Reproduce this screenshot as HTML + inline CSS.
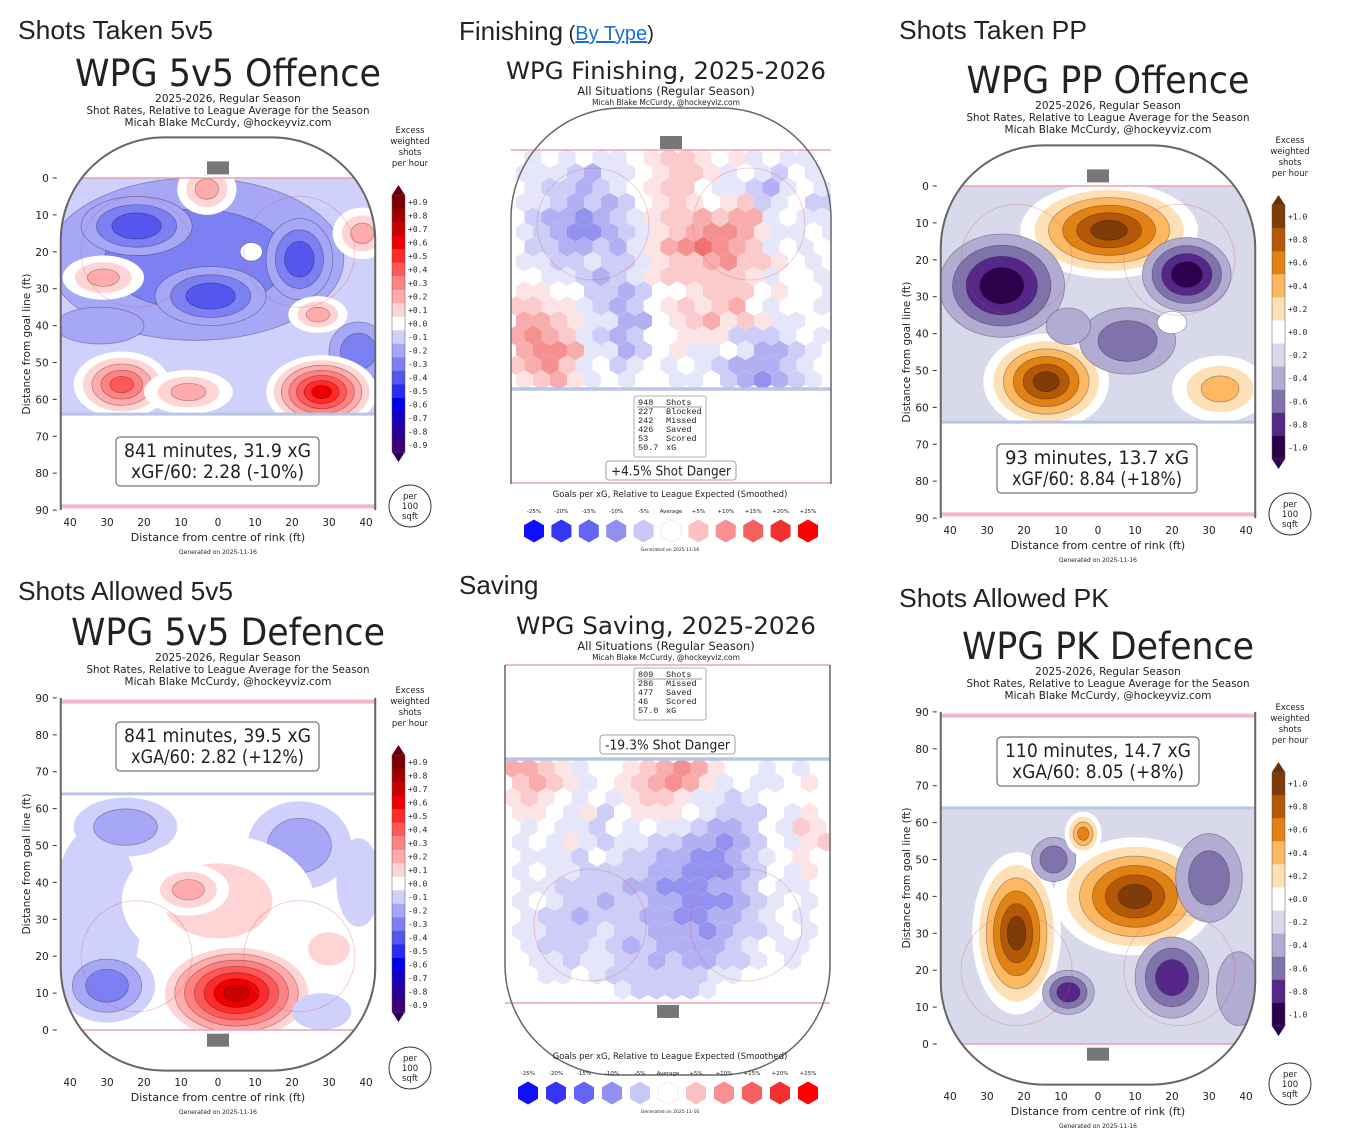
<!DOCTYPE html>
<html><head><meta charset="utf-8"><title>WPG shot charts</title>
<style>html,body{margin:0;padding:0;background:#fff;}svg{display:block;font-family:"DejaVu Sans","Liberation Sans",sans-serif;}</style>
</head><body>
<svg id="root" width="1356" height="1146" viewBox="0 0 1356 1146" xmlns="http://www.w3.org/2000/svg">
<defs id="defs"></defs>
</svg>
<script>
// ---------- data ----------
const seisLabels = ['+0.9','+0.8','+0.7','+0.6','+0.5','+0.4','+0.3','+0.2','+0.1','+0.0','-0.1','-0.2','-0.3','-0.4','-0.5','-0.6','-0.7','-0.8','-0.9'];
const puorLabels = ['+1.0','+0.8','+0.6','+0.4','+0.2','+0.0','-0.2','-0.4','-0.6','-0.8','-1.0'];
const xTicks = [-40,-30,-20,-10,0,10,20,30,40];
const yTicks = [0,10,20,30,40,50,60,70,80,90];
// blobs: [x ft, distance ft, rx ft, ry ft, level]
const offence5v5Blobs = [[-6,22,40,22,-3],[-32,40,12,5,-2],[-22,13,15,8,-4],[-2,32,15,8,-4],[22,22,9,11,-4],[38,47,8,8,-3],[9,20,3,2.5,0],[-3,3,8,7,2],[-31,27,11,6,2],[39,15,8,7,2],[27,37,8,5,2],[-26,56,13,9,4],[-8,58,12,6,2],[28,58,15,10,6]];
const defence5v5Blobs = [[-33,30,12,25,-1],[-25,55,14,8,-2],[22,50,14,12,-2],[38,40,6,12,-1],[-30,12,13,10,-3],[0,35,26,18,1],[-8,38,11,7,2],[5,10,22,14,7],[30,22,10,8,1],[28,5,8,5,-1]];
const ppOffenceBlobs = [[3,12,24,13,5],[-26,27,17,14,-5],[24,24,12,10,-5],[-14,53,17,13,5],[33,55,13,9,2],[8,42,13,9,-3],[20,37,4,3,0],[-8,38,6,5,-2]];
const pkDefenceBlobs = [[10,40,22,16,5],[-22,30,12,22,5],[20,18,10,11,-4],[30,45,9,12,-3],[-12,50,6,6,-3],[-8,14,7,6,-4],[-4,57,5,6,3],[38,15,6,10,-2]];
// hex grids: A-E = -1..-5, 0 = average, 1-5 = +1..+5
const finishingHex = ["0A0A0AA0122101A0AA0","AAABCAA01221A0AB0A0","0ABBCBA01220AABCA0A","AABCBCB0121012BA0BB","0BCCDCBA1223233A0AA","ABCDDCBA1234431AA0A","0BBCCBCA1345432A0A0","AABBABBA122342210A0","00AABCBA1222221A00A","1100BBCB0012220100A","2211ABCB0121230A00A","3321AACC0123121AA00","3432ABCB00111BBBA0A","3443AACB01AA0ACCBA0","2342A0BA0A0ABCCCBA0","1231A0A00AA0BCDCBA0"];
const savingHex = ["3321A0012343100A0A0","2321A0123431A0AA010","1210A0A1221AABA0000","110A1B01110ABBB0A10","0A0AAB0A0AABCCB0A21","A0A1ABAABBCCDCB0A12","0AAAB0ABBCCDDCBA010","A0AABBBBCCDDDCB0A10","0AABBBBCCDDDCCB0AA0","A0ABBCBBCCDDDCBA0A0","0ABBCBBBCCDDCCBA0A0","AABBBABBCCCDCBBA0A0","0ABBBABCBCCCCBA0AA0","0AABAABBCBCCBBA0A00","00AA0ABBBBBBAA00000","000000ABBBBA0000000"];
const legendLabels = ['-25%','-20%','-15%','-10%','-5%','Average','+5%','+10%','+15%','+20%','+25%'];
const finishingStats = [['948','Shots'],['227','Blocked'],['242','Missed'],['426','Saved'],[' 53','Scored'],[' 50.7','xG']];
const savingStats = [['809','Shots'],['286','Missed'],['477','Saved'],[' 46','Scored'],[' 57.0','xG']];

// ---------- helpers ----------
const NS='http://www.w3.org/2000/svg';
const root=document.getElementById('root');
const defs=document.getElementById('defs');
function mk(tag,attrs,name,parent){
  const el=document.createElementNS(NS,tag);
  for(const k in attrs) el.setAttribute(k,attrs[k]);
  
  
  (parent||root).appendChild(el);
  return el;
}
function txt(x,y,s,size,name,o,parent){
  o=o||{};
  const a={x:x,y:y,'font-size':size,'text-anchor':o.anchor||'middle',fill:o.fill||'#222'};
  if(o.len){a.textLength=o.len;a.lengthAdjust='spacingAndGlyphs';}
  if(o.family)a['font-family']=o.family;
  if(o.rot)a.transform='rotate('+o.rot+' '+x+' '+y+')';
  const t=mk('text',a,name,parent);
  t.textContent=s;
  return t;
}
const seis={9:'#7a0000',8:'#a00000',7:'#c80000',6:'#ee0000',5:'#ff2a2a',4:'#ff5858',3:'#ff8282',2:'#ffabab',1:'#ffd4d4',0:'#ffffff',
 '-1':'#cfd0fb','-2':'#a6a8f7','-3':'#7c80f2','-4':'#5456ee','-5':'#2a2cf0','-6':'#0000e8','-7':'#1400c0','-8':'#2a0098','-9':'#3a0074'};
const puor={5:'#7f3b08',4:'#b35806',3:'#e08214',2:'#fdb863',1:'#fee0b6',0:'#ffffff','-1':'#d8daeb','-2':'#b2abd2','-3':'#8073ac','-4':'#542788','-5':'#2d004b'};
const hexPos={1:'#fde4e4',2:'#fbcaca',3:'#f8acac',4:'#f59090',5:'#f07272'};
const hexNeg={1:'#e6e6fb',2:'#cdcdf7',3:'#b0b0f3',4:'#9393ef',5:'#7474ea'};
function hexColor(ch){
  if(ch>='1'&&ch<='5')return hexPos[ch];
  if(ch>='A'&&ch<='E')return hexNeg[ch.charCodeAt(0)-64];
  return '#ffffff';
}
function hexPoints(cx,cy,w){
  const r=w/Math.sqrt(3);let p=[];
  for(let i=0;i<6;i++){const a=Math.PI/180*(60*i-90);p.push((cx+r*Math.cos(a)).toFixed(1)+','+(cy+r*Math.sin(a)).toFixed(1));}
  return p.join(' ');
}

// ---------- contour panels ----------
let clipId=0;
function contourPanel(P){
  const g=mk('g',{},P.name);
  const s=3.7;
  const X=ft=>P.cx+ft*s;
  const Y=ft=>P.gy+P.dir*ft*3.69;
  const L=X(-42.5),Rt=X(42.5),E=Y(-11),F=Y(90),R=103;
  let d;
  if(P.dir===1) d=`M${L},${F} V${E+R} A${R},${R} 0 0 1 ${L+R},${E} H${Rt-R} A${R},${R} 0 0 1 ${Rt},${E+R} V${F}`;
  else d=`M${L},${F} V${E-R} A${R},${R} 0 0 0 ${L+R},${E} H${Rt-R} A${R},${R} 0 0 0 ${Rt},${E-R} V${F}`;
  txt(P.hx,P.hy,P.header,26,'section-header',{anchor:'start',family:'"Liberation Sans",sans-serif',len:P.hlen},g);
  txt(P.tcx,P.ty,P.title,37,'chart-title',{len:P.tlen},g);
  txt(P.tcx,P.ty+16,'2025-2026, Regular Season',10.5,'subtitle-season',{},g);
  txt(P.tcx,P.ty+28,'Shot Rates, Relative to League Average for the Season',10.5,'subtitle-metric',{len:283},g);
  txt(P.tcx,P.ty+40,'Micah Blake McCurdy, @hockeyviz.com',10.5,'subtitle-author',{},g);
  const c1='c'+(clipId++),c2='c'+(clipId++);
  const cp1=mk('clipPath',{id:c1},'rink-clip',defs);
  mk('path',{d:d+' Z'},'rink-clip-shape',cp1);
  const cp2=mk('clipPath',{id:c2},'zone-clip',defs);
  const zy=Math.min(Y(0),Y(64));
  mk('rect',{x:L,y:zy,width:Rt-L,height:Math.abs(Y(64)-Y(0))},'zone-clip-rect',cp2);
  const outer=mk('g',{'clip-path':`url(#${c1})`},'rink-area',g);
  const zone=mk('g',{'clip-path':`url(#${c2})`},'contour-zone',outer);
  const pal=P.pal;
  mk('rect',{x:L,y:zy,width:Rt-L,height:Math.abs(Y(64)-Y(0)),fill:pal[P.base]},'contour-base',zone);
  P.blobs.forEach(b=>{
    const n=Math.abs(b[4]),sg=Math.sign(b[4]);
    if(n===0){
      mk('ellipse',{cx:X(b[0]),cy:Y(b[1]),rx:b[2]*s,ry:b[3]*3.69,fill:'#fff',stroke:'rgba(0,0,0,0.35)','stroke-width':0.7},'contour-level',zone);
      return;
    }
    const start=sg>0?0:(P.base<0?2:1);
    const steps=n-start+1;
    for(let i=start;i<=n;i++){
      const fac=1-(i-start)/(steps+ (sg>0?0.3:0.6));
      mk('ellipse',{cx:X(b[0]),cy:Y(b[1]),rx:(b[2]*s*fac).toFixed(1),ry:(b[3]*3.69*fac).toFixed(1),fill:pal[sg*i],stroke:i>=2?'rgba(0,0,0,0.35)':'none','stroke-width':0.7},'contour-level',zone);
    }
  });
  [-22,22].forEach(fx=>mk('circle',{cx:X(fx),cy:Y(20),r:15*s,fill:'none',stroke:'rgba(220,80,100,0.35)','stroke-width':0.8},'faceoff-circle',outer));
  mk('line',{x1:L,x2:Rt,y1:Y(0),y2:Y(0),stroke:'#e8a0b0','stroke-width':1.5},'goal-line',outer);
  mk('line',{x1:L,x2:Rt,y1:Y(64),y2:Y(64),stroke:'#b8c6e4','stroke-width':3},'blue-line',outer);
  mk('line',{x1:L,x2:Rt,y1:Y(89),y2:Y(89),stroke:'#f2b8c4','stroke-width':4},'centre-red-line',outer);
  mk('rect',{x:P.cx-11,y:Math.min(Y(-4.5),Y(-1)),width:22,height:13,fill:'#777'},'goal-net',g);
  mk('path',{d:d,fill:'none',stroke:'#666','stroke-width':2},'rink-boards',g);
  yTicks.forEach(t=>{
    txt(L-12,Y(t)+4,String(t),10.5,'y-tick-label',{anchor:'end'},g);
    mk('line',{x1:L-8,x2:L-4,y1:Y(t),y2:Y(t),stroke:'#333','stroke-width':1},'y-tick',g);
  });
  xTicks.forEach(t=>txt(X(t),P.xty,String(Math.abs(t)),10.5,'x-tick-label',{},g));
  txt(P.cx,P.xty+15,'Distance from centre of rink (ft)',11,'x-axis-title',{},g);
  txt(P.cx,P.xty+28,'Generated on 2025-11-16',6,'generated-note',{},g);
  const ymid=(Y(0)+Y(90))/2;
  txt(P.cx-188,ymid,'Distance from goal line (ft)',10.5,'y-axis-title',{rot:-90},g);
  mk('rect',{x:P.bx,y:P.by,width:P.bw,height:49,rx:4,fill:'#fff',stroke:'#555','stroke-width':1},'summary-box',g);
  txt(P.bx+P.bw/2,P.by+20,P.box1,19,'summary-line-1',{len:P.bw-16},g);
  txt(P.bx+P.bw/2,P.by+41,P.box2,19,'summary-line-2',{len:P.bw-30},g);
  const cbx=P.cbx;
  txt(cbx+18,P.cbt-52,'Excess',8.5,'colorbar-title',{},g);
  txt(cbx+18,P.cbt-41,'weighted',8.5,'colorbar-title',{},g);
  txt(cbx+18,P.cbt-30,'shots',8.5,'colorbar-title',{},g);
  txt(cbx+18,P.cbt-19,'per hour',8.5,'colorbar-title',{},g);
  const labs=P.seis?seisLabels:puorLabels;
  const top=P.cbt+10,bot=P.cbb-10,h=(bot-top)/labs.length;
  labs.forEach((lb,i)=>{
    const lev=P.seis?(9-i):(5-i);
    mk('rect',{x:cbx,y:top+i*h,width:13,height:h+0.5,fill:pal[lev]},'colorbar-band',g);
    txt(cbx+16,top+i*h+h/2+3,lb,8,'colorbar-tick-label',{anchor:'start',family:'"DejaVu Sans Mono",monospace'},g);
  });
  const hi=P.seis?'#67000d':'#6a3005',lo=P.seis?'#2c005e':'#2d004b';
  mk('path',{d:`M${cbx},${top} L${cbx+6.5},${P.cbt} L${cbx+13},${top} Z`,fill:hi},'colorbar-extend-top',g);
  mk('path',{d:`M${cbx},${bot} L${cbx+6.5},${P.cbb} L${cbx+13},${bot} Z`,fill:lo},'colorbar-extend-bottom',g);
  mk('rect',{x:cbx,y:top,width:13,height:bot-top,fill:'none',stroke:'#555','stroke-width':0.5},'colorbar-frame',g);
  mk('circle',{cx:P.pcx,cy:P.pcy,r:21,fill:'#fff',stroke:'#333','stroke-width':1},'per-area-badge',g);
  txt(P.pcx,P.pcy-7,'per',8.5,'per-area-text',{},g);
  txt(P.pcx,P.pcy+3,'100',8.5,'per-area-text',{},g);
  txt(P.pcx,P.pcy+13,'sqft',8.5,'per-area-text',{},g);
}

contourPanel({name:'offence-5v5-panel',cx:218,gy:178,dir:1,pal:seis,seis:true,base:-1,blobs:offence5v5Blobs,
  header:'Shots Taken 5v5',hx:18,hy:39,hlen:195,title:'WPG 5v5 Offence',tcx:228,ty:86,tlen:306,
  xty:526,bx:116,by:437,bw:203,box1:'841 minutes, 31.9 xG',box2:'xGF/60: 2.28 (-10%)',cbx:392,cbt:185,cbb:462,pcx:410,pcy:506});
contourPanel({name:'pp-offence-panel',cx:1098,gy:186,dir:1,pal:puor,seis:false,base:-1,blobs:ppOffenceBlobs,
  header:'Shots Taken PP',hx:899,hy:39,hlen:188,title:'WPG PP Offence',tcx:1108,ty:93,tlen:283,
  xty:534,bx:997,by:444,bw:200,box1:'93 minutes, 13.7 xG',box2:'xGF/60: 8.84 (+18%)',cbx:1272,cbt:195,cbb:469,pcx:1290,pcy:514});
contourPanel({name:'defence-5v5-panel',cx:218,gy:1030,dir:-1,pal:seis,seis:true,base:0,blobs:defence5v5Blobs,
  header:'Shots Allowed 5v5',hx:18,hy:600,hlen:215,title:'WPG 5v5 Defence',tcx:228,ty:645,tlen:314,
  xty:1086,bx:116,by:722,bw:203,box1:'841 minutes, 39.5 xG',box2:'xGA/60: 2.82 (+12%)',cbx:392,cbt:745,cbb:1022,pcx:410,pcy:1068});
contourPanel({name:'pk-defence-panel',cx:1098,gy:1044,dir:-1,pal:puor,seis:false,base:-1,blobs:pkDefenceBlobs,
  header:'Shots Allowed PK',hx:899,hy:607,hlen:210,title:'WPG PK Defence',tcx:1108,ty:659,tlen:292,
  xty:1100,bx:997,by:737,bw:202,box1:'110 minutes, 14.7 xG',box2:'xGA/60: 8.05 (+8%)',cbx:1272,cbt:762,cbb:1036,pcx:1290,pcy:1084});

// ---------- hex panels ----------
function hexPanel(P){
  const g=mk('g',{},P.name);
  const h=txt(P.hx,P.hy,'',26,'section-header',{anchor:'start',family:'"Liberation Sans",sans-serif'},g);
  h.textContent=P.header;
  if(P.link){
    const t1=mk('tspan',{'font-size':20},'paren-open',h);t1.textContent=' (';
    const t2=mk('tspan',{'font-size':20,fill:'#1a6fd8','text-decoration':'underline'},'by-type-link',h);t2.textContent='By Type';
    
    const t3=mk('tspan',{'font-size':20},'paren-close',h);t3.textContent=')';
  }
  txt(666,P.ty,P.title,24,'chart-title',{len:P.tlen},g);
  txt(666,P.ty+16,'All Situations (Regular Season)',11.5,'subtitle',{},g);
  txt(666,P.ty+26,'Micah Blake McCurdy, @hockeyviz.com',7.5,'subtitle-author',{},g);
  const L=P.L,Rt=P.Rt,R=110;
  let d;
  if(P.dir===1) d=`M${L},${P.F} V${P.E+R} A${R},${R} 0 0 1 ${L+R},${P.E} H${Rt-R} A${R},${R} 0 0 1 ${Rt},${P.E+R} V${P.F}`;
  else d=`M${L},${P.F} V${P.E-R} A${R},${R} 0 0 0 ${L+R},${P.E} H${Rt-R} A${R},${R} 0 0 0 ${Rt},${P.E-R} V${P.F}`;
  const c='c'+(clipId++);
  const cp=mk('clipPath',{id:c},'hex-clip',defs);
  mk('rect',{x:L,y:P.zy0,width:Rt-L,height:P.zy1-P.zy0},'hex-clip-rect',cp);
  const hg=mk('g',{'clip-path':`url(#${c})`},'hex-grid',g);
  const w=17,rs=14.8;
  P.grid.forEach((row,r)=>{
    for(let col=0;col<row.length;col++){
      const ch=row[col];
      if(ch==='0')continue;
      const cx=P.x0+col*w+(r%2)*w/2, cy=P.y0+r*rs;
      mk('polygon',{points:hexPoints(cx,cy,w),fill:hexColor(ch)},'hex-cell',hg);
    }
  });
  [P.cx-78,P.cx+78].forEach(fx=>mk('circle',{cx:fx,cy:P.fy,r:56,fill:'none',stroke:'rgba(220,80,100,0.35)','stroke-width':0.8},'faceoff-circle',g));
  mk('line',{x1:L,x2:Rt,y1:P.goalY,y2:P.goalY,stroke:'#e8a0b0','stroke-width':1.5},'goal-line',g);
  mk('line',{x1:L,x2:Rt,y1:P.blueY,y2:P.blueY,stroke:'#b8c6e4','stroke-width':3.5},'blue-line',g);
  mk('line',{x1:L,x2:Rt,y1:P.redY,y2:P.redY,stroke:'#f2b8c4','stroke-width':2},'centre-red-line',g);
  mk('rect',{x:P.cx-11,y:P.netY,width:22,height:13,fill:'#777'},'goal-net',g);
  mk('path',{d:d,fill:'none',stroke:'#666','stroke-width':1.5},'rink-boards',g);
  mk('rect',{x:P.sx,y:P.sy,width:72,height:P.stats.length*9+7,rx:2,fill:'#fff',stroke:'#999','stroke-width':0.8},'stats-box',g);
  P.stats.forEach((s,i)=>{
    txt(P.sx+4,P.sy+9+i*9,s[0],8.5,'stats-count',{anchor:'start',family:'"Liberation Mono",monospace'},g);
    txt(P.sx+32,P.sy+9+i*9,s[1],8.5,'stats-label',{anchor:'start',family:'"Liberation Mono",monospace'},g);
  });
  mk('line',{x1:P.sx+3,x2:P.sx+68,y1:P.sy+11,y2:P.sy+11,stroke:'#333','stroke-width':0.6},'stats-underline',g);
  mk('rect',{x:P.dx,y:P.dy,width:P.dw,height:19,rx:3,fill:'#fff',stroke:'#888','stroke-width':0.8},'shot-danger-box',g);
  txt(P.dx+P.dw/2,P.dy+14.5,P.danger,13,'shot-danger-text',{len:P.dw-10},g);
  txt(670,P.ly,'Goals per xG, Relative to League Expected (Smoothed)',8.5,'legend-title',{},g);
  const lc=['#1010ff','#3535f5','#6565f5','#9090f0','#c8c8f5','#ffffff','#fbc0c0','#f89090','#f56060','#f23030','#ff0000'];
  legendLabels.forEach((lb,i)=>{
    const x=P.lx0+i*P.ls;
    txt(x,P.ly+16,lb,5.5,'legend-label',{},g);
    mk('polygon',{points:hexPoints(x,P.ly+34,20),fill:lc[i],stroke:i===5?'#eee':'none'},'legend-swatch',g);
  });
  txt(670,P.ly+54,'Generated on 2025-11-16',4.5,'generated-note',{},g);
}
hexPanel({name:'finishing-panel',header:'Finishing',link:true,hx:459,hy:40,title:'WPG Finishing, 2025-2026',ty:79,tlen:320,
  L:511,Rt:831,E:108,F:484,dir:1,zy0:150,zy1:388,grid:finishingHex,x0:516,y0:158,cx:671,fy:224,
  goalY:150,blueY:389,redY:483,netY:136,sx:634,sy:396,stats:finishingStats,dx:606,dy:461,dw:130,danger:'+4.5% Shot Danger',
  ly:497,lx0:534,ls:27.4});
hexPanel({name:'saving-panel',header:'Saving',link:false,hx:459,hy:594,title:'WPG Saving, 2025-2026',ty:634,tlen:300,
  L:505,Rt:830,E:1075,F:665,dir:-1,zy0:760,zy1:1003,grid:savingHex,x0:512,y0:768,cx:668,fy:925,
  goalY:1003,blueY:759,redY:665,netY:1005,sx:634,sy:668,stats:savingStats,dx:600,dy:735,dw:135,danger:'-19.3% Shot Danger',
  ly:1059,lx0:528,ls:28});
</script>
</body></html>
